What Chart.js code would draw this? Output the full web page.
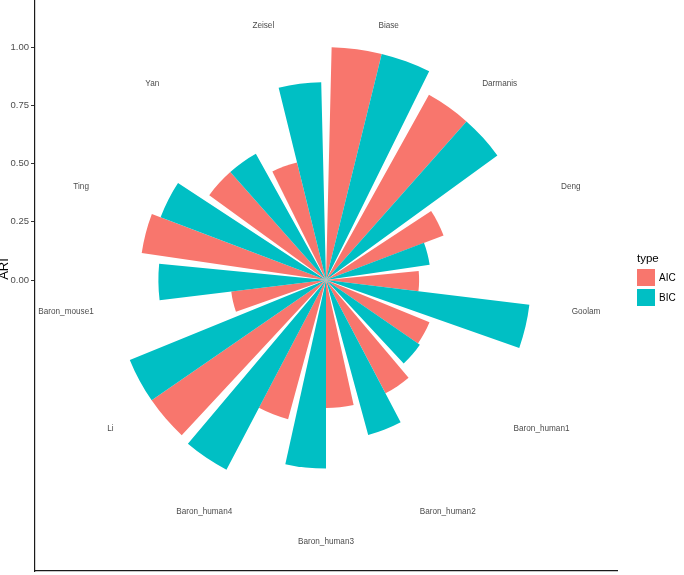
<!DOCTYPE html>
<html>
<head>
<meta charset="utf-8">
<script src="https://cdn.jsdelivr.net/npm/chart.js@4/dist/chart.umd.min.js"></script>
<style>
  html, body { margin: 0; padding: 0; background: #fff; overflow: hidden; }
  body { width: 684px; height: 575px; position: relative; font-family: 'Liberation Sans', Arial, sans-serif; }
  #wrap { position: absolute; left: 0; top: -11px; width: 684px; height: 586px; }
  #legend { position: absolute; left: 637px; top: 251px; }
  #legend .ttl { font-size: 11.5px; color: #000; line-height: 14px; margin-bottom: 4px; }
  #legend .li { display: flex; align-items: center; height: 17px; margin-bottom: 3px; font-size: 10px; color: #000; }
  #legend .sw { width: 18px; height: 17px; margin-right: 4px; }
</style>
</head>
<body>
<div id="wrap"><canvas id="c"></canvas></div>
<div id="legend"></div>
<script>
'use strict';

// данные с картинки (ARI по датасетам)
const categories = ['Biase', 'Darmanis', 'Deng', 'Goolam', 'Baron_human1', 'Baron_human2', 'Baron_human3',
  'Baron_human4', 'Li', 'Baron_mouse1', 'Ting', 'Yan', 'Zeisel'];
const aicValues = [1.00, 0.91, 0.54, 0.40, 0.48, 0.55, 0.55, 0.62, 0.91, 0.41, 0.80, 0.62, 0.52];
const bicValues = [1.00, 0.91, 0.45, 0.88, 0.49, 0.69, 0.81, 0.92, 0.91, 0.72, 0.76, 0.62, 0.85];
const types = ['AIC', 'BIC'];
const typeColors = ['#F8766D', '#00BFC4'];
const yTicks = [0, 0.25, 0.5, 0.75, 1];

const step = 360 / categories.length;   // градусов на категорию
const barFrac = 0.45;                    // ширина одного столбца (dodge, width .9)
const gapFrac = 1 - 2 * barFrac;

// один набор: AIC, BIC, пустой промежуток для каждой категории
const labels = [], values = [], colors = [], angles = [];
categories.forEach((c, i) => {
  labels.push(c + ' AIC', c + ' BIC', '');
  values.push(aicValues[i], bicValues[i], 0);
  colors.push(typeColors[0], typeColors[1], 'rgba(0,0,0,0)');
  angles.push(step * barFrac, step * barFrac, step * gapFrac);
});

const rMax = 1.25; // радиус данных = 0.4 панели, как в coord_polar

const catLabels = {
  id: 'catLabels',
  afterDraw(chart){
    const r = chart.scales.r, ctx = chart.ctx;
    const R = r.drawingArea * 0.9;
    ctx.save();
    ctx.font = "8.2px 'Liberation Sans', Arial, sans-serif";
    ctx.fillStyle = '#4d4d4d';
    ctx.textAlign = 'center'; ctx.textBaseline = 'middle';
    categories.forEach((c, i) => {
      const a = ((i + 0.5) * step - 90) * Math.PI / 180;
      ctx.fillText(c, r.xCenter + Math.cos(a) * R, r.yCenter + Math.sin(a) * R);
    });
    // заголовок оси (в оригинале обрезан слева)
    ctx.translate(7.5, r.yCenter - 11);
    ctx.rotate(-Math.PI / 2);
    ctx.font = "13px 'Liberation Sans', Arial, sans-serif";
    ctx.fillStyle = '#000';
    ctx.textAlign = 'center'; ctx.textBaseline = 'alphabetic';
    ctx.fillText('ARI', 0, 0);
    ctx.restore();
  }
};

new Chart(document.getElementById('c'), {
  type: 'polarArea',
  data: { labels, datasets: [{ data: values, backgroundColor: colors, borderWidth: 0, angle: ctx => angles[ctx.dataIndex] }] },
  options: {
    responsive: true, maintainAspectRatio: false, animation: false,
    layout: { padding: { left: 0, right: 67, top: 0, bottom: 0 } },
    plugins: { legend: { display: false }, tooltip: { enabled: true } },
    scales: {
      r: { min: 0, max: rMax, startAngle: step * gapFrac / 2,
        grid: { display: false }, angleLines: { display: false }, ticks: { display: false }, pointLabels: { display: false } },
      y: { type: 'linear', position: 'left', min: -rMax, max: rMax,
        afterBuildTicks: s => { s.ticks = yTicks.map(v => ({ value: v })); },
        afterFit: s => { s.width = 35; s.paddingTop = 0; s.paddingBottom = 0; },
        grid: { display: true, drawOnChartArea: false, drawTicks: true, tickLength: 4, color: '#333' },
        border: { display: true, color: '#1a1a1a', width: 1.2 },
        ticks: { color: '#4d4d4d', padding: 2, font: { size: 9.5, family: "'Liberation Sans', Arial, sans-serif" }, callback: v => v.toFixed(2) } },
      x: { type: 'linear', position: 'bottom', min: 0, max: 1,
        afterFit: s => { s.height = 4; s.paddingLeft = 0; s.paddingRight = 0; },
        grid: { display: false }, ticks: { display: false },
        border: { display: true, color: '#1a1a1a', width: 1.2 } }
    }
  },
  plugins: [catLabels]
});

// легенда
document.getElementById('legend').innerHTML = '<div class="ttl">type</div>' +
  types.map((t, i) => `<div class="li"><span class="sw" style="background:${typeColors[i]}"></span>${t}</div>`).join('');
</script>
</body>
</html>
